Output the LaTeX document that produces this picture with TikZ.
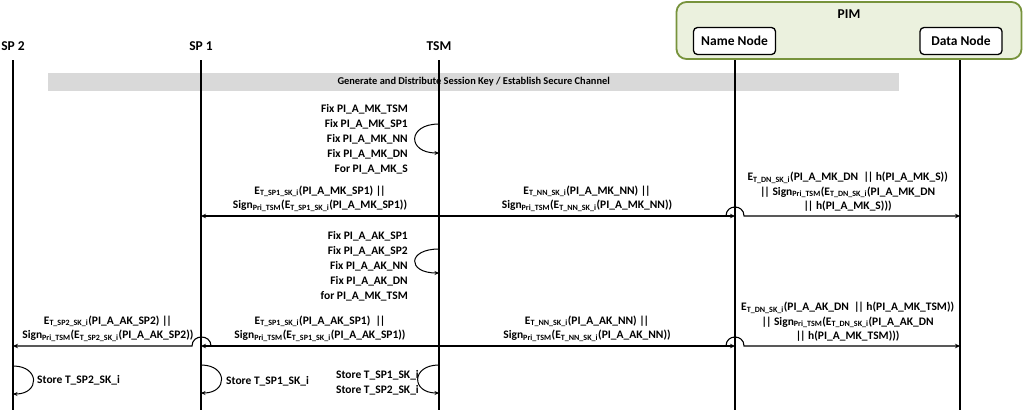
\documentclass[tikz,border=0pt]{standalone}
\usepackage{fontspec}
\setmainfont{Carlito}
\usetikzlibrary{arrows.meta}
\definecolor{pimfill}{HTML}{EBF1DE}
\definecolor{pimline}{HTML}{77933C}
\definecolor{barfill}{HTML}{D9D9D9}
\newcommand{\sk}[1]{\textsubscript{#1}}
\newcommand{\bars}{|\kern-1.2pt|}

\begin{document}
\begin{tikzpicture}[x=1pt, y=-1pt,
    head/.style={font=\fontsize{13.5}{16}\selectfont\bfseries, inner sep=0pt},
    box/.style={draw, line width=1.3pt, rounded corners=4pt, fill=white,
                minimum width=82pt, minimum height=27pt,
                font=\fontsize{13.5}{16}\selectfont\bfseries},
    life/.style={line width=1.6pt},
    arr/.style={-{Stealth[length=5pt,width=4.5pt]}, line width=1.1pt},
    loop/.style={-{Stealth[length=4.5pt,width=4pt]}, line width=1pt},
    lbl/.style={align=center, inner sep=1pt,
                font=\fontsize{11.5}{14.5}\selectfont\bfseries},
    note/.style={inner sep=0pt, font=\fontsize{11.5}{15}\selectfont\bfseries}
  ]
  \useasboundingbox (0,0) rectangle (1024,410);

  % PIM group
  \node[draw=pimline, fill=pimfill, line width=1.8pt, rounded corners=10pt,
        minimum width=345pt, minimum height=57pt] (pim) at (849,30.5) {};
  \node[head] (pimt) at (849,14) {PIM};

  % Heads
  \node[head] (sp2) at (13,46)  {SP 2};
  \node[head] (sp1) at (201,46) {SP 1};
  \node[head] (tsm) at (439,46) {TSM};
  \node[box]  (nn)  at (734.5,41) {Name Node};
  \node[box]  (dn)  at (961,41)   {Data Node};

  % Session bar
  \node[fill=barfill, minimum width=851pt, minimum height=17.5pt, inner sep=0pt,
        font=\fontsize{10.4}{12}\selectfont\bfseries] (bar) at (473.7,82)
        {Generate and Distribute Session Key / Establish Secure Channel};

  % Lifelines
  \coordinate (sp2t) at (13,60);   \coordinate (sp2b) at (13,410);
  \coordinate (sp1t) at (201,60);  \coordinate (sp1b) at (201,410);
  \coordinate (tsmt) at (439,60);  \coordinate (tsmb) at (439,410);
  \coordinate (nnt)  at (735,60);  \coordinate (nnb)  at (735,410);
  \coordinate (dnt)  at (960,60);  \coordinate (dnb)  at (960,410);
  \draw[life] (sp2t) -- (sp2b);
  \draw[life] (sp1t) -- (sp1b);
  \draw[life] (tsmt) -- (tsmb);
  \draw[life] (nnt) -- (nnb);
  \draw[life] (dnt) -- (dnb);

  % Master keys
  \node[note, align=right, anchor=east] (fixmk) at (408,139)
    {Fix PI\_A\_MK\_TSM\\Fix PI\_A\_MK\_SP1\\Fix PI\_A\_MK\_NN\\Fix PI\_A\_MK\_DN\\For PI\_A\_MK\_S};
  \coordinate (mka) at (439,124);
  \coordinate (mkb) at (439,153);
  \draw[loop] (mka) .. controls +(-32,0) and +(-32,0) .. (mkb);

  % Row 1
  \coordinate (sp1r1) at (201,216);
  \coordinate (tsmr1) at (439,216);
  \coordinate (nnr1)  at (735,216);
  \coordinate (nnr1l) at (726,216);
  \coordinate (nnr1r) at (744,216);
  \coordinate (dnr1)  at (960,216);
  \draw[arr] (tsmr1) -- node[lbl, above=3pt]
    {E\sk{T\_SP1\_SK\_i}(PI\_A\_MK\_SP1) \bars\\Sign\sk{Pri\_TSM}(E\sk{T\_SP1\_SK\_i}(PI\_A\_MK\_SP1))} (sp1r1);
  \draw[arr] (tsmr1) -- node[lbl, above=3pt]
    {E\sk{T\_NN\_SK\_i}(PI\_A\_MK\_NN) \bars\\Sign\sk{Pri\_TSM}(E\sk{T\_NN\_SK\_i}(PI\_A\_MK\_NN))} (nnr1);
  \draw[arr] (nnr1l) .. controls +(0,-12) and +(0,-12) .. (nnr1r)
    -- node[lbl, above=3pt, pos=0.48]
    {E\sk{T\_DN\_SK\_i}(PI\_A\_MK\_DN\ \ \bars\ h(PI\_A\_MK\_S))\\\bars\ Sign\sk{Pri\_TSM}(E\sk{T\_DN\_SK\_i}(PI\_A\_MK\_DN\\\bars\ h(PI\_A\_MK\_S)))} (dnr1);

  % Access keys
  \node[note, align=right, anchor=east] (fixak) at (408,266)
    {Fix PI\_A\_AK\_SP1\\Fix PI\_A\_AK\_SP2\\Fix PI\_A\_AK\_NN\\Fix PI\_A\_AK\_DN\\for PI\_A\_MK\_TSM};
  \coordinate (aka) at (439,249);
  \coordinate (akb) at (439,273);
  \draw[loop] (aka) .. controls +(-32,0) and +(-32,0) .. (akb);

  % Row 2
  \coordinate (sp2r2)  at (13,346);
  \coordinate (sp1r2)  at (201,346);
  \coordinate (sp1r2l) at (192,346);
  \coordinate (sp1r2r) at (211,346);
  \coordinate (tsmr2)  at (439,346);
  \coordinate (nnr2)   at (735,346);
  \coordinate (nnr2l)  at (726,346);
  \coordinate (nnr2r)  at (744,346);
  \coordinate (dnr2)   at (960,346);
  \draw[arr] (tsmr2) -- node[lbl, above=3pt]
    {E\sk{T\_SP1\_SK\_i}(PI\_A\_AK\_SP1)\ \ \bars\\Sign\sk{Pri\_TSM}(E\sk{T\_SP1\_SK\_i}(PI\_A\_AK\_SP1))} (sp1r2);
  \draw[arr] (sp1r2r) .. controls +(0,-12) and +(0,-12) .. (sp1r2l)
    -- node[lbl, above=3pt, pos=0.47]
    {E\sk{T\_SP2\_SK\_i}(PI\_A\_AK\_SP2) \bars\\Sign\sk{Pri\_TSM}(E\sk{T\_SP2\_SK\_i}(PI\_A\_AK\_SP2))} (sp2r2);
  \draw[arr] (tsmr2) -- node[lbl, above=3pt]
    {E\sk{T\_NN\_SK\_i}(PI\_A\_AK\_NN) \bars\\Sign\sk{Pri\_TSM}(E\sk{T\_NN\_SK\_i}(PI\_A\_AK\_NN))} (nnr2);
  \draw[arr] (nnr2l) .. controls +(0,-12) and +(0,-12) .. (nnr2r)
    -- node[lbl, above=3pt, pos=0.48]
    {E\sk{T\_DN\_SK\_i}(PI\_A\_AK\_DN\ \ \bars\ h(PI\_A\_MK\_TSM))\\\bars\ Sign\sk{Pri\_TSM}(E\sk{T\_DN\_SK\_i}(PI\_A\_AK\_DN\\\bars\ h(PI\_A\_MK\_TSM)))} (dnr2);

  % Store session keys
  \coordinate (sp2sa) at (13,366);  \coordinate (sp2sb) at (13,394);
  \coordinate (sp1sa) at (201,365); \coordinate (sp1sb) at (201,393);
  \coordinate (tsmsa) at (439,365); \coordinate (tsmsb) at (439,393);
  \draw[loop] (sp2sa) .. controls +(27,0) and +(27,0) .. (sp2sb);
  \draw[loop] (sp1sa) .. controls +(27,0) and +(27,0) .. (sp1sb);
  \draw[loop] (tsmsa) .. controls +(-28,0) and +(-28,0) .. (tsmsb);
  \node[note, anchor=west] (st2) at (37,380) {Store T\_SP2\_SK\_i};
  \node[note, anchor=west] (st1) at (226,381) {Store T\_SP1\_SK\_i};
  \node[note, align=right, anchor=east] (stt) at (419,383)
    {Store T\_SP1\_SK\_i\\Store T\_SP2\_SK\_i};
\end{tikzpicture}
\end{document}
